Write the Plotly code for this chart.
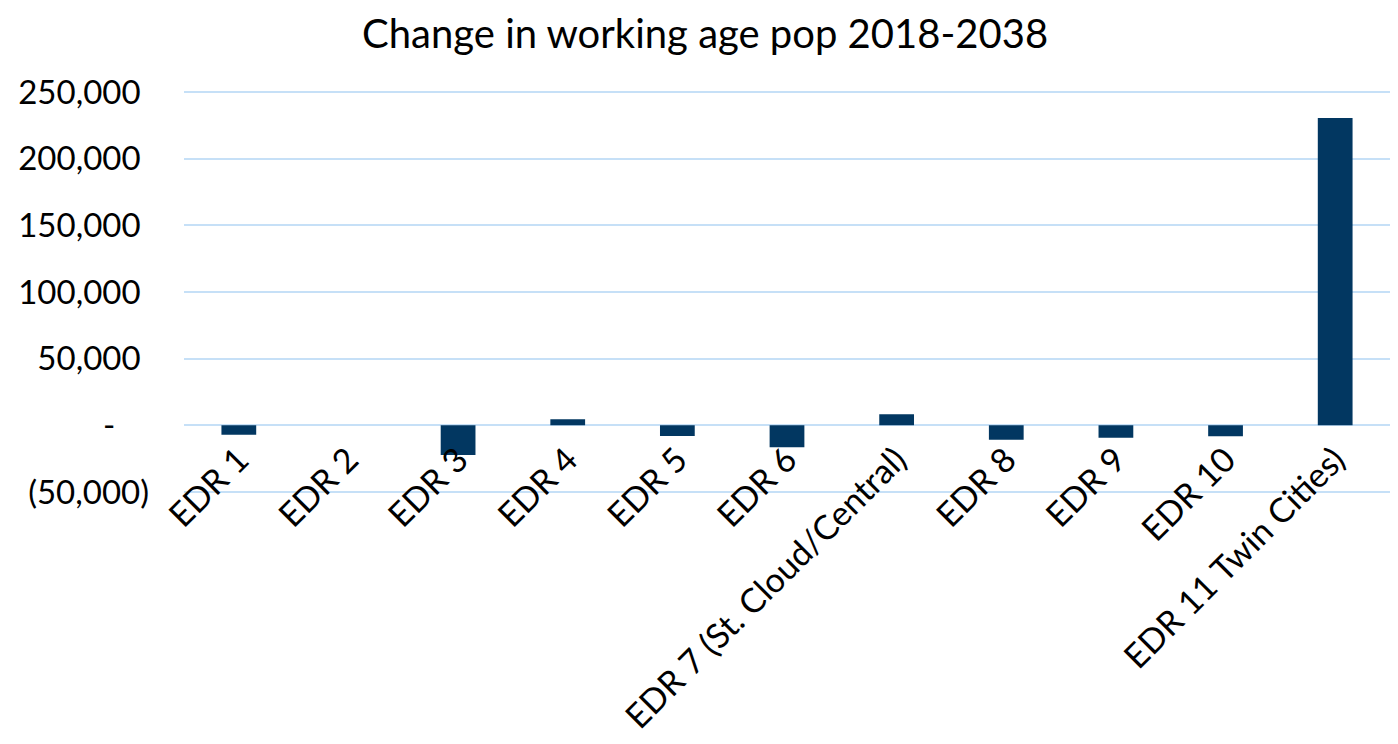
import plotly.graph_objects as go

categories = ["EDR 1", "EDR 2", "EDR 3", "EDR 4", "EDR 5", "EDR 6",
              "EDR 7 (St. Cloud/Central)", "EDR 8", "EDR 9", "EDR 10",
              "EDR 11 Twin Cities)"]
change = [-7000, 0, -22300, 4500, -8000, -16500, 8250, -10800, -9300, -8250, 230500]

tick_vals = [-50000, 0, 50000, 100000, 150000, 200000, 250000]
tick_text = ["(50,000)", "-\u00a0\u00a0\u00a0\u00a0", "50,000\u00a0", "100,000\u00a0",
             "150,000\u00a0", "200,000\u00a0", "250,000\u00a0"]

FONT = "Lato, 'Open Sans', sans-serif"
GRID = "#C6E0F7"

fig = go.Figure(go.Bar(
    x=categories, y=change,
    marker=dict(color="#023761", line=dict(width=0)),
))

fig.update_layout(
    width=1390, height=736,
    paper_bgcolor="white", plot_bgcolor="white",
    margin=dict(l=176, r=8, t=80, b=246, autoexpand=False),
    bargap=0.683,
    showlegend=False,
    title=dict(text="Change in working age pop 2018-2038",
               x=0.5015, xanchor="center", y=0.965, yanchor="middle",
               yref="container",
               font=dict(family=FONT, size=40, color="black")),
    font=dict(family=FONT, size=33, color="black"),
)
fig.update_xaxes(
    tickangle=-45, showgrid=False, zeroline=False, showline=False,
    ticks="", tickfont=dict(family=FONT, size=34, color="black"),
    ticklabelstandoff=-66, automargin=False,
)
fig.update_yaxes(
    range=[-54500, 253000], tickvals=tick_vals, ticktext=tick_text,
    showgrid=True, gridcolor=GRID, gridwidth=1.5,
    zeroline=True, zerolinecolor=GRID, zerolinewidth=1.5,
    showline=False, ticks="", automargin=False,
    tickfont=dict(family=FONT, size=33, color="black"),
    ticklabelstandoff=34,
)

fig.write_html("out.html")
